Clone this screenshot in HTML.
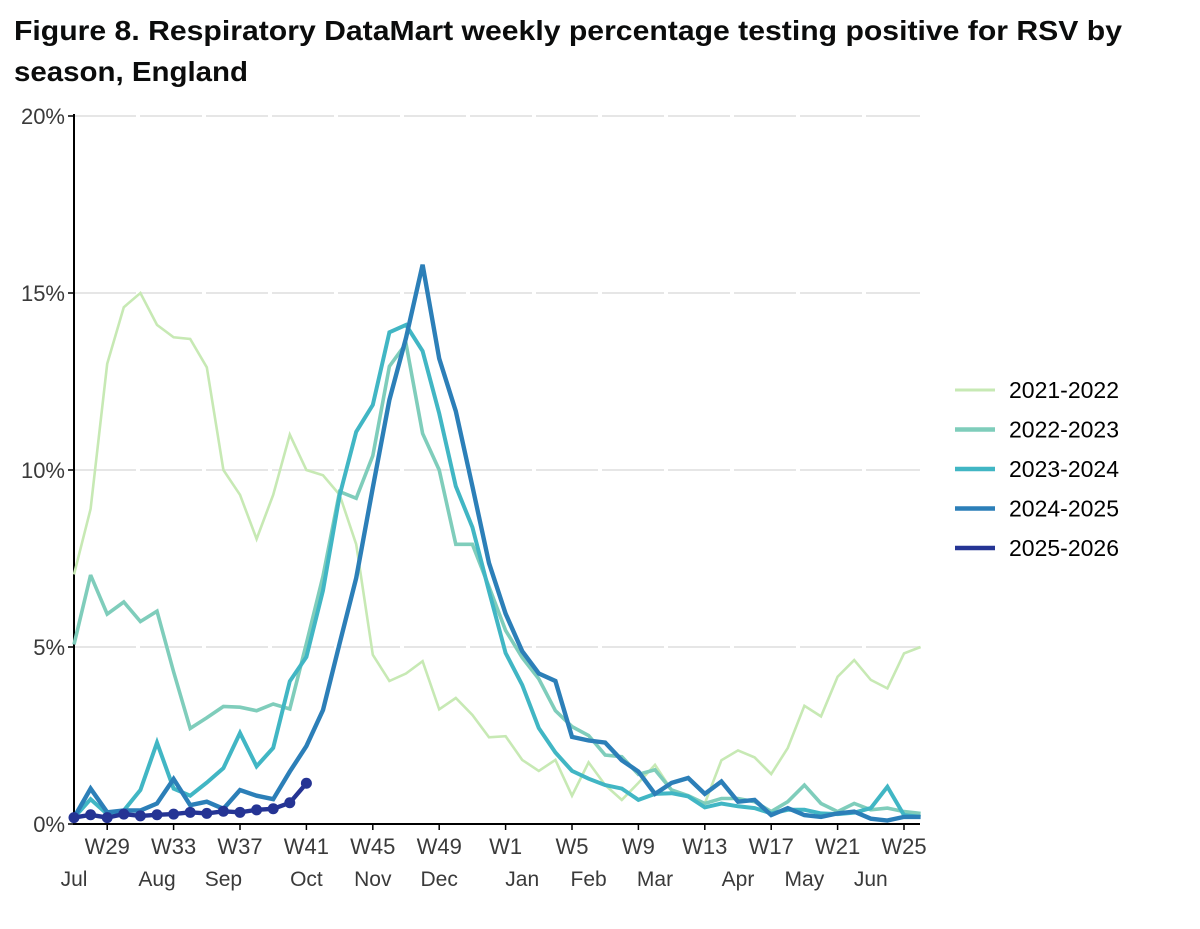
<!DOCTYPE html>
<html><head><meta charset="utf-8"><style>
body{margin:0;background:#fff;}
svg{display:block;font-family:"Liberation Sans",sans-serif;}
</style></head><body>
<svg width="1200" height="929" viewBox="0 0 1200 929">
<text x="14" y="40" font-size="28" font-weight="bold" fill="#0b0c0c" textLength="1108" lengthAdjust="spacingAndGlyphs">Figure 8. Respiratory DataMart weekly percentage testing positive for RSV by</text>
<text x="14" y="81" font-size="28" font-weight="bold" fill="#0b0c0c" textLength="234" lengthAdjust="spacingAndGlyphs">season, England</text>
<g id="grid"></g><g id="yaxis"></g><g id="xaxis"></g><g id="series"></g><g id="legend"></g>
</svg>
<script>
const weekLabels=["W29","W33","W37","W41","W45","W49","W1","W5","W9","W13","W17","W21","W25"];
const weekLabelIdx=[2,6,10,14,18,22,26,30,34,38,42,46,50];
const monthLabels=["Jul","Aug","Sep","Oct","Nov","Dec","Jan","Feb","Mar","Apr","May","Jun"];
const monthIdx=[0,5,9,14,18,22,27,31,35,40,44,48];
const yTicks=[0,5,10,15,20];
const seasons=["2021-2022","2022-2023","2023-2024","2024-2025","2025-2026"];
const colors=["#c7e9b4","#7fcdbb","#41b6c4","#2c7fb8","#253494"];
const widths=[2.6,3.6,4,4.4,4.4];
const s2021=[7.05,8.9,13.0,14.6,15.0,14.1,13.75,13.7,12.9,10.0,9.3,8.05,9.3,11.0,10.0,9.85,9.3,7.9,4.78,4.04,4.25,4.6,3.24,3.56,3.08,2.45,2.48,1.81,1.5,1.81,0.8,1.74,1.1,0.68,1.16,1.67,0.96,0.8,0.58,1.8,2.08,1.88,1.41,2.15,3.34,3.04,4.16,4.63,4.07,3.83,4.82,5.0];
const s2022=[5.07,7.03,5.93,6.27,5.72,6.01,4.3,2.7,3.0,3.32,3.3,3.2,3.39,3.25,5.1,7.0,9.39,9.2,10.4,12.93,13.57,11.03,10.0,7.9,7.9,6.7,5.47,4.7,4.1,3.2,2.75,2.5,1.95,1.9,1.4,1.53,0.96,0.8,0.58,0.72,0.72,0.63,0.35,0.63,1.1,0.58,0.35,0.58,0.4,0.45,0.35,0.3];
const s2023=[0.18,0.7,0.28,0.38,0.96,2.3,1.0,0.8,1.17,1.58,2.57,1.63,2.15,4.03,4.72,6.6,9.28,11.08,11.84,13.89,14.1,13.36,11.6,9.54,8.38,6.58,4.83,3.93,2.71,2.02,1.5,1.28,1.1,1.0,0.68,0.85,0.87,0.78,0.47,0.58,0.5,0.45,0.3,0.4,0.4,0.3,0.28,0.32,0.45,1.05,0.25,0.2];
const s2024=[0.18,1.0,0.33,0.38,0.38,0.58,1.27,0.53,0.63,0.43,0.96,0.8,0.7,1.48,2.2,3.22,5.1,6.95,9.5,11.98,13.73,15.8,13.15,11.66,9.54,7.37,5.94,4.88,4.25,4.04,2.46,2.36,2.3,1.8,1.48,0.85,1.16,1.3,0.85,1.2,0.63,0.68,0.25,0.45,0.25,0.2,0.3,0.35,0.15,0.1,0.2,0.2];
const s2025=[0.18,0.26,0.18,0.28,0.23,0.26,0.28,0.33,0.3,0.36,0.33,0.4,0.43,0.6,1.15];
const seriesData=[s2021,s2022,s2023,s2024,s2025];
const NS="http://www.w3.org/2000/svg";
const X0=74,STEP=16.6,Y0=824,YTOP=116,YMAX=20;
function xs(i){return X0+STEP*i;}
function ys(v){return Y0-(Y0-YTOP)*v/YMAX;}
function mk(tag,attrs,parent){const e=document.createElementNS(NS,tag);for(const k in attrs)e.setAttribute(k,attrs[k]);parent.appendChild(e);return e;}
const grid=document.getElementById('grid'),yax=document.getElementById('yaxis'),xax=document.getElementById('xaxis'),ser=document.getElementById('series'),leg=document.getElementById('legend');
yTicks.forEach(t=>{
  if(t>0){const g=mk('line',{x1:X0,x2:920,y1:ys(t),y2:ys(t),stroke:'#e6e6e6','stroke-width':2,'stroke-dasharray':'62 4'},grid);
  
  }
  const tx=mk('text',{x:65,y:ys(t)+8,'text-anchor':'end','font-size':22,fill:'#3a3a3a'},yax);
  tx.textContent=t+'%';
  
  
  mk('line',{x1:X0-6,x2:X0,y1:ys(t),y2:ys(t),stroke:'#000','stroke-width':1.5},yax);
});
const ya=mk('line',{x1:X0,x2:X0,y1:YTOP-2,y2:Y0+1,stroke:'#000','stroke-width':2},yax);


const xa=mk('line',{x1:X0,x2:920,y1:Y0,y2:Y0,stroke:'#000','stroke-width':2},xax);


weekLabels.forEach((w,k)=>{
  const x=xs(weekLabelIdx[k]);
  mk('line',{x1:x,x2:x,y1:Y0,y2:Y0+6,stroke:'#000','stroke-width':1.5},xax);
  const t=mk('text',{x:x,y:854,'text-anchor':'middle','font-size':22,fill:'#3a3a3a'},xax);
  t.textContent=w;
  
  
});
monthLabels.forEach((m,k)=>{
  const t=mk('text',{x:xs(monthIdx[k]),y:886,'text-anchor':'middle','font-size':21,fill:'#3a3a3a'},xax);
  t.textContent=m;
  
  
});
seriesData.forEach((d,s)=>{
  const pts=d.map((v,i)=>xs(i).toFixed(1)+','+ys(v).toFixed(1)).join(' ');
  const p=mk('polyline',{points:pts,fill:'none',stroke:colors[s],'stroke-width':widths[s],'stroke-linejoin':'miter','stroke-miterlimit':3},ser);
  
  
  if(s===4){d.forEach((v,i)=>{const c=mk('circle',{cx:xs(i),cy:ys(v),r:5.5,fill:colors[s]},ser);
    
    });}
});
seasons.forEach((n,s)=>{
  const y=390+s*39.5;
  const l=mk('line',{x1:955,x2:995,y1:y,y2:y,stroke:colors[s],'stroke-width':s===0?3:4.5},leg);
  
  
  const t=mk('text',{x:1009,y:y+8,'font-size':23,fill:'#000'},leg);
  t.textContent=n;
  
  
});
</script>
</body></html>
